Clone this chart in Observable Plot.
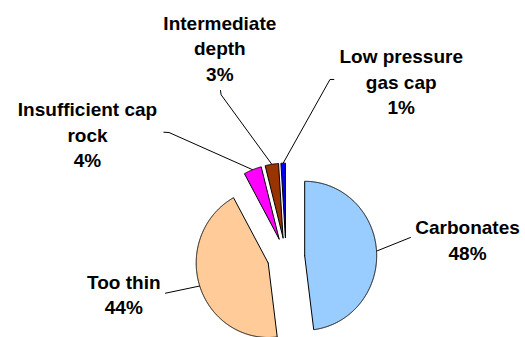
<!DOCTYPE html>
<html>
<head>
<meta charset="utf-8">
<script src="https://cdn.jsdelivr.net/npm/d3@7"></script>
<script src="https://cdn.jsdelivr.net/npm/@observablehq/plot@0.6"></script>
<style>
  html, body { margin: 0; padding: 0; background: #fff; }
</style>
</head>
<body>
<div id="chart"></div>
<script>
// Reasons, in pie order (clockwise from 12 o'clock)
const categories = ["Carbonates", "Too thin", "Insufficient cap rock", "Intermediate depth", "Low pressure gas cap"];
const shares = [48, 44, 4, 3, 1];
const labelNames = ["Carbonates", "Too thin", "Insufficient cap\nrock", "Intermediate\ndepth", "Low pressure\ngas cap"];
const sliceColors = ["#99CCFF", "#FFCC99", "#FF00FF", "#993300", "#0000FF"];

// Layout: pie centre and radii in pixels; everything else in pie units (radius = 1, y up)
const W = 525, H = 337;
const cx = 285.5, cy = 256.5, rx = 72, ry = 74.5;
const explode = 0.26;
const labelAt = [[2.521, 0.246], [-2.253, -0.489], [-2.757, 1.659], [-0.919, 2.816], [1.6, 2.372]];
const leaderFrom = [
  [[1.729, 0.262]],
  [[-1.674, -0.486]],
  [[-1.697, 1.675], [-1.625, 1.671]],
  [[-0.910, 2.235], [-0.901, 2.177]],
  [[0.664, 2.383], [0.611, 2.383]]
];

const arcs = d3.pie().sort(null).value(d => d)(shares);
const slices = arcs.map((a, i) => {
  const mid = (a.startAngle + a.endAngle) / 2;
  return {
    name: categories[i], a0: a.startAngle, a1: a.endAngle, mid,
    ox: explode * Math.sin(mid), oy: explode * Math.cos(mid)
  };
});

// Closed outline of every exploded slice
const outline = slices.flatMap(s => {
  const pts = [{name: s.name, x: s.ox, y: s.oy}];
  const n = Math.max(2, Math.ceil((s.a1 - s.a0) / (Math.PI / 720)));
  for (let k = 0; k <= n; k++) {
    const t = s.a0 + (s.a1 - s.a0) * k / n;
    pts.push({name: s.name, x: s.ox + Math.sin(t), y: s.oy + Math.cos(t)});
  }
  pts.push({name: s.name, x: s.ox, y: s.oy});
  return pts;
});

// Leader lines: label end -> (knee) -> middle of the slice's arc
const leaders = slices.flatMap((s, i) => [
  ...leaderFrom[i].map(([x, y]) => ({name: s.name, x, y})),
  {name: s.name, x: s.ox + Math.sin(s.mid), y: s.oy + Math.cos(s.mid)}
]);

const labels = slices.map((s, i) => ({
  name: s.name, x: labelAt[i][0], y: labelAt[i][1],
  text: `${labelNames[i]}\n${shares[i]}%`
}));

const chart = Plot.plot({
  width: W, height: H, margin: 0,
  style: {fontFamily: "'Liberation Sans', Arial, sans-serif", background: "#fff"},
  x: {axis: null, domain: [-cx / rx, (W - cx) / rx], range: [0, W]},
  y: {axis: null, domain: [-(H - cy) / ry, cy / ry], range: [H, 0]},
  color: {domain: categories, range: sliceColors},
  marks: [
    Plot.line(leaders, {x: "x", y: "y", z: "name", stroke: "black", strokeWidth: 1}),
    Plot.line(outline, {x: "x", y: "y", z: "name", fill: "name", stroke: "black", strokeWidth: 1, strokeLinejoin: "miter"}),
    Plot.text(labels, {x: "x", y: "y", text: "text", fontSize: 19, fontWeight: "bold", lineHeight: 1.35, fill: "black", textAnchor: "middle"})
  ]
});
document.getElementById("chart").appendChild(chart);
</script>
</body>
</html>
